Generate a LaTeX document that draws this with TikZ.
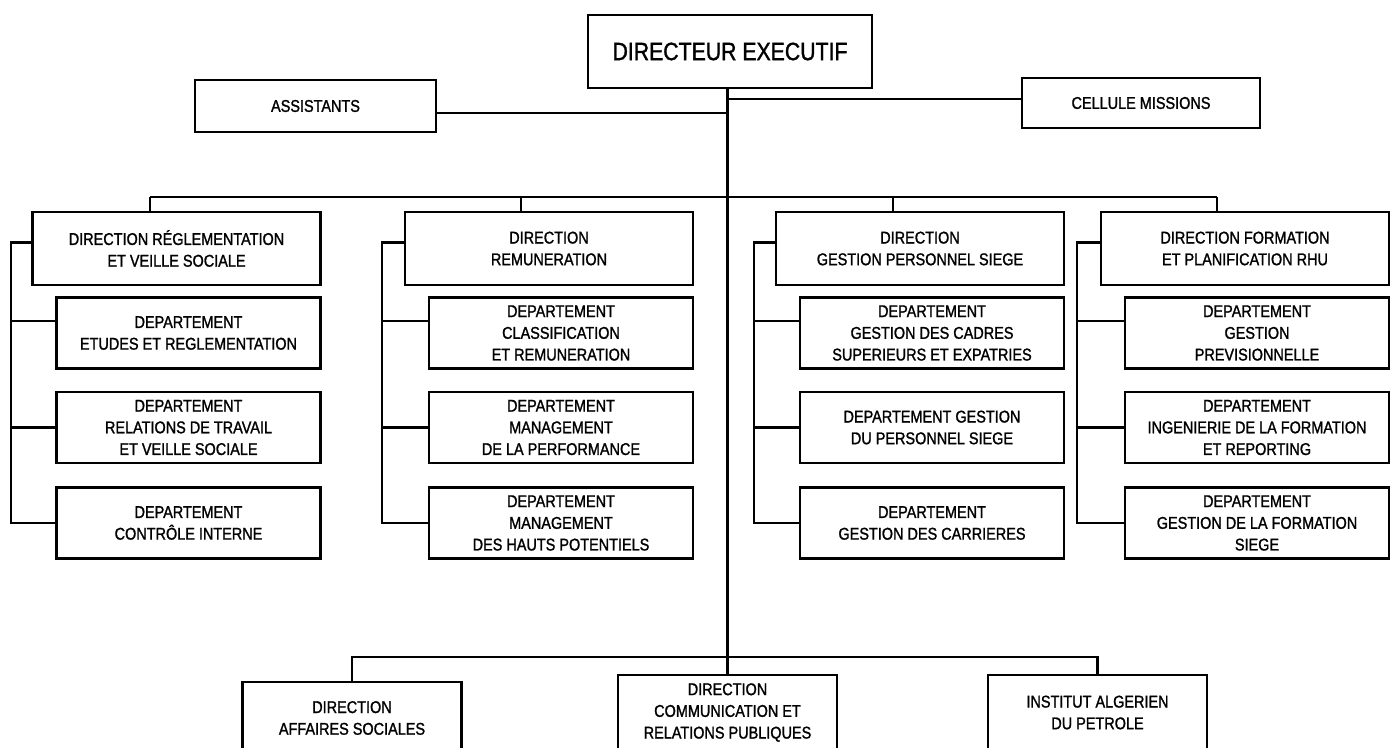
\documentclass[tikz,border=0pt]{standalone}
\usepackage{fontspec}
\setmainfont{Liberation Sans}[FakeStretch=0.85,FakeBold=1.3]
\begin{document}
\begin{tikzpicture}[x=1bp,y=-1bp,line join=miter,
  box/.style={draw, line width=2.6bp, inner sep=0pt, align=center,
    font=\fontsize{17bp}{21.7bp}\selectfont},
  dirbox/.style={box, minimum width=288bp, minimum height=73bp},
  deptbox/.style={box, minimum width=264bp, minimum height=71bp},
  lowbox/.style={box, minimum width=219bp},
  link/.style={line width=2.2bp}]
\path[use as bounding box, clip] (0,0) rectangle (1397,747);

% top level
\node[box, minimum width=284bp, minimum height=73bp,
  font=\fontsize{25bp}{30bp}\selectfont] (dir) at (730,51.5) {DIRECTEUR EXECUTIF};
\node[box, minimum width=241bp, minimum height=52bp] (ass) at (315.5,106) {ASSISTANTS};
\node[box, minimum width=238bp, minimum height=50bp] (cel) at (1141,103) {CELLULE MISSIONS};

% directions
\node[dirbox] (d1) at (176.5,248.5) {DIRECTION RÉGLEMENTATION\\ET VEILLE SOCIALE};
\node[dirbox] (d2) at (549,248.5) {DIRECTION\\REMUNERATION};
\node[dirbox] (d3) at (920,248.5) {DIRECTION\\GESTION PERSONNEL SIEGE};
\node[dirbox] (d4) at (1245,248.5) {DIRECTION FORMATION\\ET PLANIFICATION RHU};

% departments
\node[deptbox] (e11) at (188.5,333) {DEPARTEMENT\\ETUDES ET REGLEMENTATION};
\node[deptbox] (e12) at (188.5,427.5) {DEPARTEMENT\\RELATIONS DE TRAVAIL\\ET VEILLE SOCIALE};
\node[deptbox] (e13) at (188.5,523) {DEPARTEMENT\\CONTRÔLE INTERNE};

\node[deptbox] (e21) at (561,333) {DEPARTEMENT\\CLASSIFICATION\\ET REMUNERATION};
\node[deptbox] (e22) at (561,427.5) {DEPARTEMENT\\MANAGEMENT\\DE LA PERFORMANCE};
\node[deptbox] (e23) at (561,523) {DEPARTEMENT\\MANAGEMENT\\DES HAUTS POTENTIELS};

\node[deptbox] (e31) at (932,333) {DEPARTEMENT\\GESTION DES CADRES\\SUPERIEURS ET EXPATRIES};
\node[deptbox] (e32) at (932,427.5) {DEPARTEMENT GESTION\\DU PERSONNEL SIEGE};
\node[deptbox] (e33) at (932,523) {DEPARTEMENT\\GESTION DES CARRIERES};

\node[deptbox] (e41) at (1257,333) {DEPARTEMENT\\GESTION\\PREVISIONNELLE};
\node[deptbox] (e42) at (1257,427.5) {DEPARTEMENT\\INGENIERIE DE LA FORMATION\\ET REPORTING};
\node[deptbox] (e43) at (1257,523) {DEPARTEMENT\\GESTION DE LA FORMATION\\SIEGE};

% bottom row
\node[lowbox, minimum height=72bp] (aff) at (352,718) {DIRECTION\\AFFAIRES SOCIALES};
\node[lowbox, minimum height=75bp] (com) at (727.5,712.5) {DIRECTION\\COMMUNICATION ET\\RELATIONS PUBLIQUES};
\node[lowbox, minimum height=75bp] (iap) at (1097.5,712.5) {INSTITUT ALGERIEN\\DU PETROLE};

% trunk and staff links
\draw[link] (com.north |- dir.south) -- (com.north);
\draw[link] ([yshift=-7bp]ass.east) -- ([yshift=-7bp]ass.east -| com.north);
\draw[link] ([yshift=4bp]cel.west) -- ([yshift=4bp]cel.west -| com.north);

% bus to the directions
\coordinate (t1) at (150,197);
\coordinate (t2) at (521,197);
\coordinate (t3) at (893,197);
\coordinate (t4) at (1217,197);
\draw[link] (t1) -- (t4);
\draw[link] (t1) -- (t1 |- d1.north);
\draw[link] (t2) -- (t2 |- d2.north);
\draw[link] (t3) -- (t3 |- d3.north);
\draw[link] (t4) -- (t4 |- d4.north);

% spines on the left of each column
\coordinate (s1) at (11,0);
\coordinate (s2) at (382,0);
\coordinate (s3) at (754,0);
\coordinate (s4) at (1077,0);
\foreach \c in {1,2,3,4}{
  \draw[link] ([yshift=6bp]d\c.west) -- ([yshift=6bp]d\c.west -| s\c) |- (e\c3.west);
  \draw[link] ([yshift=12bp]e\c1.west) -- ([yshift=12bp]e\c1.west -| s\c);
  \draw[link] (e\c2.west) -- (e\c2.west -| s\c);
}

% bottom bus
\draw[link] (aff.north) -- ++(0,-24) -| (iap.north);
\end{tikzpicture}
\end{document}
